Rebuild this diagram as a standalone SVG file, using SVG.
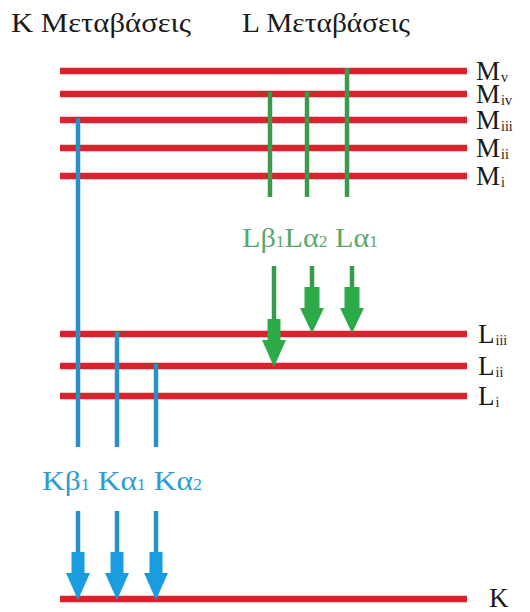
<svg xmlns="http://www.w3.org/2000/svg" width="530" height="612" viewBox="0 0 530 612">
<style>
.lvl{stroke:#d9222e;stroke-width:6.5;fill:none}
.lab{font-family:"Liberation Serif","DejaVu Serif",serif;font-size:27px;fill:#1a1a1a}
.sub{font-size:14px}
.hdr{font-family:"Liberation Serif","DejaVu Serif",serif;font-size:27px;fill:#1a1a1a}
.bl{stroke:#2790c8;stroke-width:4.5;fill:none}
.gl{stroke:#3a9a4c;stroke-width:4.5;fill:none}
.ba{fill:#1a9de0}
.ga{fill:#2caa48}
.bt{font-family:"Liberation Serif","DejaVu Serif",serif;font-size:28px;fill:#2e9bd2}
.gt{font-family:"Liberation Serif","DejaVu Serif",serif;font-size:28px;fill:#5aa868}
</style>
<defs>
<path id="ah" d="M-6.5,-48 H6.5 V-27 H12 L0,0 L-12,-27 H-6.5 Z"/>
<path id="ah2" d="M-7.5,-46 H7.5 V-25 H12 L0,0 L-12,-25 H-7.5 Z"/>
</defs>
<rect width="530" height="612" fill="#ffffff"/>
<text class="hdr" x="11" y="32" textLength="180" lengthAdjust="spacingAndGlyphs">K Μεταβάσεις</text>
<text class="hdr" x="242" y="32" textLength="168" lengthAdjust="spacingAndGlyphs">L Μεταβάσεις</text>

<g id="level-Mv"><line class="lvl" x1="60" y1="71" x2="467" y2="71"/><text class="lab" x="476" y="80">M<tspan class="sub" dx="1" dy="2">v</tspan></text></g>
<g id="level-Miv"><line class="lvl" x1="60" y1="94" x2="467" y2="94"/><text class="lab" x="476" y="103">M<tspan class="sub" dx="1" dy="2">iv</tspan></text></g>
<g id="level-Miii"><line class="lvl" x1="60" y1="120" x2="467" y2="120"/><text class="lab" x="476" y="129">M<tspan class="sub" dx="1" dy="2">iii</tspan></text></g>
<g id="level-Mii"><line class="lvl" x1="60" y1="148" x2="467" y2="148"/><text class="lab" x="476" y="157">M<tspan class="sub" dx="1" dy="2">ii</tspan></text></g>
<g id="level-Mi"><line class="lvl" x1="60" y1="176" x2="467" y2="176"/><text class="lab" x="476" y="185">M<tspan class="sub" dx="1" dy="2">i</tspan></text></g>
<g id="level-Liii"><line class="lvl" x1="60" y1="334" x2="467" y2="334"/><text class="lab" x="478" y="343">L<tspan class="sub" dx="1" dy="2">iii</tspan></text></g>
<g id="level-Lii"><line class="lvl" x1="60" y1="366" x2="467" y2="366"/><text class="lab" x="478" y="375">L<tspan class="sub" dx="1" dy="2">ii</tspan></text></g>
<g id="level-Li"><line class="lvl" x1="60" y1="396" x2="467" y2="396"/><text class="lab" x="478" y="405">L<tspan class="sub" dx="1" dy="2">i</tspan></text></g>
<g id="level-K"><line class="lvl" x1="60" y1="599" x2="467" y2="599"/><text class="lab" x="489" y="607">K</text></g>

<g id="connectors">
<line class="bl" x1="78" y1="118" x2="78" y2="447"/>
<line class="bl" x1="117" y1="332" x2="117" y2="447"/>
<line class="bl" x1="156" y1="364" x2="156" y2="447"/>
<line class="bl" x1="78" y1="511" x2="78" y2="560"/>
<line class="bl" x1="117" y1="511" x2="117" y2="560"/>
<line class="bl" x1="156" y1="511" x2="156" y2="560"/>
<use href="#ah" class="ba" x="78" y="600"/>
<use href="#ah" class="ba" x="117" y="600"/>
<use href="#ah" class="ba" x="156" y="600"/>
<text class="bt" x="42" y="490" textLength="160" lengthAdjust="spacingAndGlyphs">Kβ<tspan font-size="16">1</tspan> Kα<tspan font-size="16">1</tspan> Kα<tspan font-size="16">2</tspan></text>

<line class="gl" x1="270" y1="92" x2="270" y2="197"/>
<line class="gl" x1="307" y1="92" x2="307" y2="197"/>
<line class="gl" x1="347" y1="68" x2="347" y2="197"/>
<line class="gl" x1="274" y1="266" x2="274" y2="325"/>
<line class="gl" x1="312" y1="266" x2="312" y2="295"/>
<line class="gl" x1="352" y1="266" x2="352" y2="295"/>
<use href="#ah" class="ga" x="274" y="367"/>
<use href="#ah2" class="ga" x="312" y="333"/>
<use href="#ah2" class="ga" x="352" y="333"/>
<text class="gt" x="242" y="247" textLength="136" lengthAdjust="spacingAndGlyphs">Lβ<tspan font-size="16">1</tspan>Lα<tspan font-size="16">2</tspan> Lα<tspan font-size="16">1</tspan></text>
</g>
</svg>
